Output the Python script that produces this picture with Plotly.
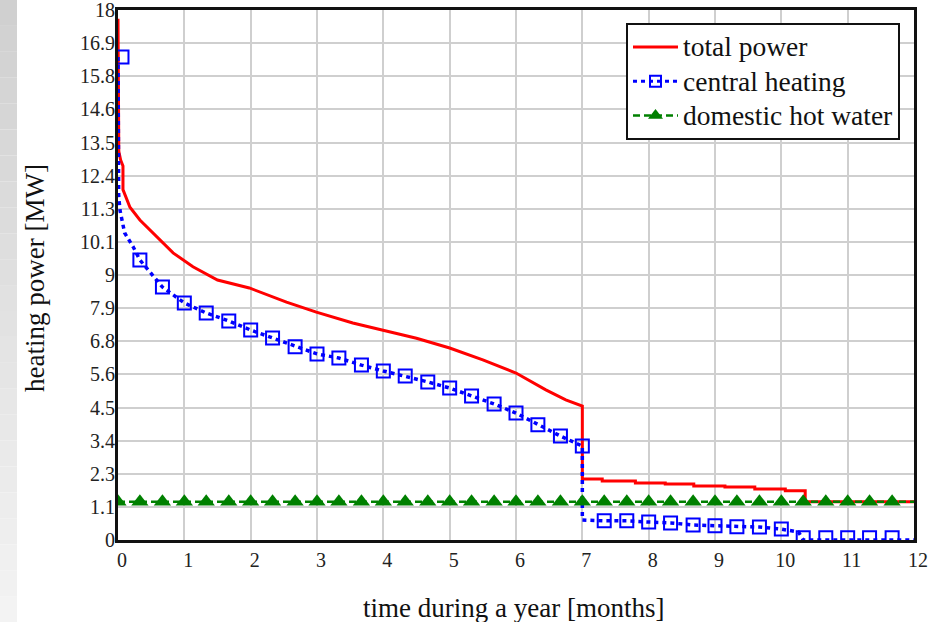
import plotly.graph_objects as go

# ---------------- data ----------------
total_months = [0.0, 0.012, 0.04, 0.075, 0.075, 0.18, 0.33, 0.59, 0.83, 1.13, 1.5, 1.98,
                2.54, 2.99, 3.54, 3.98, 4.5, 5.0, 5.5, 6.0, 6.45, 6.75, 7.0, 7.0,
                7.3, 7.3, 7.8, 7.8, 8.25, 8.25, 8.68, 8.68, 9.15, 9.15, 9.6, 9.6,
                10.06, 10.06, 10.36, 10.36, 12.03]
total_power = [17.7, 13.2, 12.9, 12.7, 11.9, 11.3, 10.87, 10.3, 9.75, 9.28, 8.83, 8.56,
               8.08, 7.74, 7.37, 7.13, 6.85, 6.52, 6.12, 5.67, 5.10, 4.76, 4.55, 2.07,
               2.07, 2.0, 2.0, 1.94, 1.94, 1.9, 1.9, 1.83, 1.83, 1.8, 1.8, 1.73,
               1.73, 1.67, 1.67, 1.3, 1.3]

heating_months = [0.0, 0.003, 0.006, 0.01, 0.03, 0.1, 0.23, 0.33, 0.67, 1.0, 1.33, 1.67,
                  2.0, 2.33, 2.67, 3.0, 3.33, 3.67, 4.0, 4.33, 4.67, 5.0, 5.33, 5.67,
                  6.0, 6.33, 6.67, 7.0, 7.0, 7.33, 7.67, 8.0, 8.33, 8.67, 9.0, 9.33,
                  9.67, 10.0, 10.26, 10.33, 12.0]
heating_power = [16.4, 14.0, 12.5, 11.7, 11.2, 10.43, 9.95, 9.51, 8.59, 8.05, 7.71, 7.44,
                 7.13, 6.86, 6.56, 6.32, 6.18, 5.94, 5.74, 5.57, 5.37, 5.16, 4.89, 4.62,
                 4.31, 3.91, 3.53, 3.19, 0.68, 0.65, 0.65, 0.61, 0.58, 0.51, 0.48, 0.45,
                 0.44, 0.37, 0.27, 0.0, 0.0]

marker_months = [0.06, 0.33, 0.67, 1.0, 1.33, 1.67, 2.0, 2.33, 2.67, 3.0, 3.33, 3.67,
                 4.0, 4.33, 4.67, 5.0, 5.33, 5.67, 6.0, 6.33, 6.67, 7.0, 7.33, 7.67,
                 8.0, 8.33, 8.67, 9.0, 9.33, 9.67, 10.0, 10.33, 10.67, 11.0, 11.33, 11.67]
heating_markers = [16.4, 9.51, 8.59, 8.05, 7.71, 7.44, 7.13, 6.86, 6.56, 6.32, 6.18, 5.94,
                   5.74, 5.57, 5.37, 5.16, 4.89, 4.62, 4.31, 3.91, 3.53, 3.19, 0.65, 0.65,
                   0.61, 0.58, 0.51, 0.48, 0.45, 0.44, 0.37, 0.08, 0.08, 0.08, 0.08, 0.08]

dhw_line_months = [0.0, 12.0]
dhw_line_power = [1.3, 1.3]
dhw_marker_months = [0.0, 0.33, 0.67, 1.0, 1.33, 1.67, 2.0, 2.33, 2.67, 3.0, 3.33, 3.67,
                     4.0, 4.33, 4.67, 5.0, 5.33, 5.67, 6.0, 6.33, 6.67, 7.0, 7.33, 7.67,
                     8.0, 8.33, 8.67, 9.0, 9.33, 9.67, 10.0, 10.33, 10.67, 11.0, 11.33, 11.67]
dhw_marker_power = [1.3, 1.3, 1.3, 1.3, 1.3, 1.3, 1.3, 1.3, 1.3, 1.3, 1.3, 1.3,
                    1.3, 1.3, 1.3, 1.3, 1.3, 1.3, 1.3, 1.3, 1.3, 1.3, 1.3, 1.3,
                    1.3, 1.3, 1.3, 1.3, 1.3, 1.3, 1.3, 1.3, 1.3, 1.3, 1.3, 1.3]

y_tick_values = [0, 1.125, 2.25, 3.375, 4.5, 5.625, 6.75, 7.875, 9, 10.125, 11.25,
                 12.375, 13.5, 14.625, 15.75, 16.875, 18]
y_tick_labels = ["0", "1.1", "2.3", "3.4", "4.5", "5.6", "6.8", "7.9", "9", "10.1", "11.3",
                 "12.4", "13.5", "14.6", "15.8", "16.9", "18"]
x_tick_values = [0, 1, 2, 3, 4, 5, 6, 7, 8, 9, 10, 11, 12]

names = ["total power", "central heating", "domestic hot water"]

# ---------------- figure ----------------
RED, BLUE, GREEN = "#ff0000", "#0000ff", "#008000"
SERIF = "Liberation Serif"


def legend_label(s):
    return f"<span style=\"font-family:'Liberation Serif',serif;font-size:27.5px\">{s}</span>"


fig = go.Figure()

fig.add_trace(go.Scatter(x=total_months, y=total_power, mode="lines",
                         line=dict(color=RED, width=3), showlegend=False))
fig.add_trace(go.Scatter(x=heating_months, y=heating_power, mode="lines",
                         line=dict(color=BLUE, width=3.5, dash="4px,4px"), showlegend=False))
fig.add_trace(go.Scatter(x=marker_months, y=heating_markers, mode="markers",
                         marker=dict(symbol="square-open", size=13, color=BLUE,
                                     line=dict(width=2, color=BLUE)),
                         showlegend=False))
fig.add_trace(go.Scatter(x=dhw_line_months, y=dhw_line_power, mode="lines",
                         line=dict(color=GREEN, width=2.5, dash="7px,4px"), showlegend=False))
fig.add_trace(go.Scatter(x=dhw_marker_months, y=dhw_marker_power, mode="markers",
                         marker=dict(symbol="triangle-up", size=15, color=GREEN),
                         showlegend=False))

# legend-only entries
fig.add_trace(go.Scatter(x=[None], y=[None], mode="lines", name=legend_label(names[0]),
                         line=dict(color=RED, width=3)))
fig.add_trace(go.Scatter(x=[None], y=[None], mode="lines+markers", name=legend_label(names[1]),
                         line=dict(color=BLUE, width=3, dash="4px,4px"),
                         marker=dict(symbol="square-open", size=11, color=BLUE,
                                     line=dict(width=2, color=BLUE))))
fig.add_trace(go.Scatter(x=[None], y=[None], mode="lines+markers", name=legend_label(names[2]),
                         line=dict(color=GREEN, width=2.5, dash="7px,4px"),
                         marker=dict(symbol="triangle-up", size=13, color=GREEN)))

# left grey gradient strip of the page
shapes = []
n_bands = 24
y_top, y_bot = 540 / 530, -82 / 530
for i in range(n_bands):
    f = i / (n_bands - 1)
    g = int(round(0xd0 + (0xf3 - 0xd0) * f))
    shapes.append(dict(type="rect", xref="paper", yref="paper", layer="below",
                       x0=-118 / 796, x1=(17 - 118) / 796,
                       y0=y_top - (y_top - y_bot) * i / n_bands,
                       y1=y_top - (y_top - y_bot) * (i + 1) / n_bands,
                       fillcolor=f"rgb({g},{g},{g})", line=dict(width=0)))

fig.update_layout(
    width=938, height=622,
    margin=dict(l=118, r=24, t=10, b=82),
    paper_bgcolor="white", plot_bgcolor="white",
    font=dict(family=SERIF, color="#111111", size=20),
    shapes=shapes,
    legend=dict(x=(900 - 118) / 796, xanchor="right", y=(540 - 23) / 530, yanchor="top",
                bgcolor="white", bordercolor="#111111", borderwidth=2,
                font=dict(family=SERIF, size=24, color="#111111"),
                tracegroupgap=0, itemwidth=45),
    annotations=[
        dict(text="heating power [MW]", xref="paper", yref="paper",
             x=(35 - 118) / 796, y=(540 - 278) / 530, xanchor="center", yanchor="middle",
             textangle=-90, showarrow=False, font=dict(family=SERIF, size=27, color="#111111")),
        dict(text="time during a year [months]", xref="paper", yref="paper",
             x=(513 - 118) / 796, y=(540 - 608) / 530, xanchor="center", yanchor="middle",
             showarrow=False, font=dict(family=SERIF, size=27, color="#111111")),
    ],
)

fig.update_xaxes(range=[0, 12], tickmode="array", tickvals=x_tick_values,
                 showgrid=True, gridcolor="#cfcfcf", gridwidth=1.5, zeroline=False,
                 showline=True, linecolor="#111111", linewidth=3, mirror=True,
                 ticks="", tickfont=dict(family=SERIF, size=20, color="#222222"),
                 ticklabelshift=4, ticklabeloverflow="allow", automargin=False)
fig.update_yaxes(range=[0, 18], tickmode="array", tickvals=y_tick_values, ticktext=y_tick_labels,
                 showgrid=True, gridcolor="#cfcfcf", gridwidth=1.5, zeroline=False,
                 showline=True, linecolor="#111111", linewidth=3, mirror=True,
                 ticks="", tickfont=dict(family=SERIF, size=20, color="#222222"),
                 ticklabelstandoff=-4, ticklabeloverflow="allow", automargin=False)

fig.write_html("out.html")
